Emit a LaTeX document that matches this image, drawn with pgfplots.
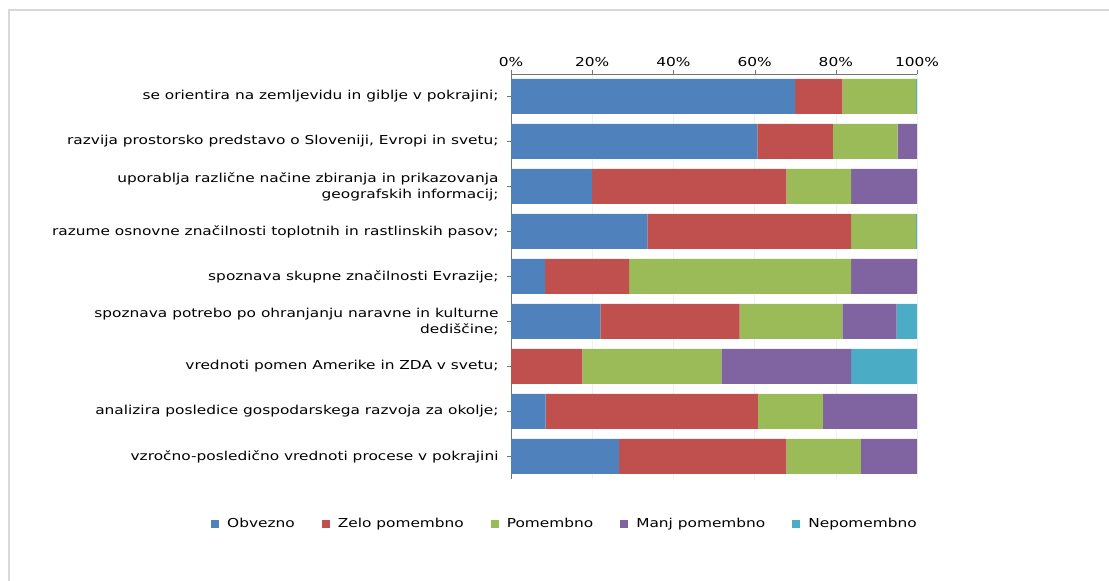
\documentclass[border=0pt]{standalone}
\usepackage{pgfplots}
\pgfplotsset{compat=1.18}
\usepackage{fontspec}
\setmainfont[FakeStretch=1.25]{DejaVu Sans}
\definecolor{cblue}{HTML}{4F81BD}
\definecolor{cred}{HTML}{C0504D}
\definecolor{cgreen}{HTML}{9BBB59}
\definecolor{cpurple}{HTML}{8064A2}
\definecolor{ccyan}{HTML}{4BACC6}
\newcommand{\lf}{\fontsize{12.3bp}{16bp}\selectfont}
\begin{document}
\begin{tikzpicture}[x=1bp,y=1bp]
\path[use as bounding box] (0,0) rectangle (1109,581);
\draw[gray!30, line width=1.5bp] (9,-5) -- (9,571) -- (1109,571);
\begin{axis}[
  at={(511bp,102bp)}, anchor=south west,
  width=406bp, height=405bp, scale only axis,
  xbar stacked, bar width=35bp,
  xmin=0, xmax=100, ymin=-0.5, ymax=8.5,
  axis x line*=top, axis y line*=left,
  axis line style={black!55},
  xtick={0,20,40,60,80,100},
  xticklabels={0\%,20\%,40\%,60\%,80\%,100\%},
  xmajorgrids, grid style={gray!12},
  ytick={0,1,2,3,4,5,6,7,8},
  yticklabels={
    {vzročno-posledično vrednoti procese v pokrajini},
    {analizira posledice gospodarskega razvoja za okolje;},
    {vrednoti pomen Amerike in ZDA v svetu;},
    {spoznava potrebo po ohranjanju naravne in kulturne\\dediščine;},
    {spoznava skupne značilnosti Evrazije;},
    {razume osnovne značilnosti toplotnih in rastlinskih pasov;},
    {uporablja različne načine zbiranja in prikazovanja\\geografskih informacij;},
    {razvija prostorsko predstavo o Sloveniji, Evropi in svetu;},
    {se orientira na zemljevidu in giblje v pokrajini;}},
  tick align=outside, major tick length=4bp,
  tick style={black!55},
  yticklabel style={align=right, font=\lf, text=black, xshift=-5bp},
  xticklabel style={font=\lf, text=black},
  legend style={at={(0.133,-0.11)}, anchor=center, draw=none, font=\lf,
    legend columns=5,
    /tikz/every odd column/.append style={column sep=6bp},
    /tikz/every even column/.append style={column sep=25bp}},
  legend image code/.code={\fill[#1] (0bp,-4bp) rectangle (8bp,4bp);},
]
\addplot[fill=cblue, draw=none] coordinates {(70,8) (60.7,7) (20,6) (33.6,5) (8.4,4) (22,3) (0,2) (8.5,1) (26.6,0)};
\addplot[fill=cred, draw=none] coordinates {(11.6,8) (18.6,7) (47.8,6) (50.2,5) (20.7,4) (34.3,3) (17.6,2) (52.3,1) (41.2,0)};
\addplot[fill=cgreen, draw=none] coordinates {(18.2,8) (15.9,7) (16,6) (16,5) (54.7,4) (25.3,3) (34.2,2) (16,1) (18.4,0)};
\addplot[fill=cpurple, draw=none] coordinates {(0,8) (4.8,7) (16.2,6) (0,5) (16.2,4) (13.4,3) (32,2) (23.2,1) (13.8,0)};
\addplot[fill=ccyan, draw=none] coordinates {(0.2,8) (0,7) (0,6) (0.2,5) (0,4) (5,3) (16.2,2) (0,1) (0,0)};
\legend{Obvezno, Zelo pomembno, Pomembno, Manj pomembno, Nepomembno}
\end{axis}
\end{tikzpicture}
\end{document}
